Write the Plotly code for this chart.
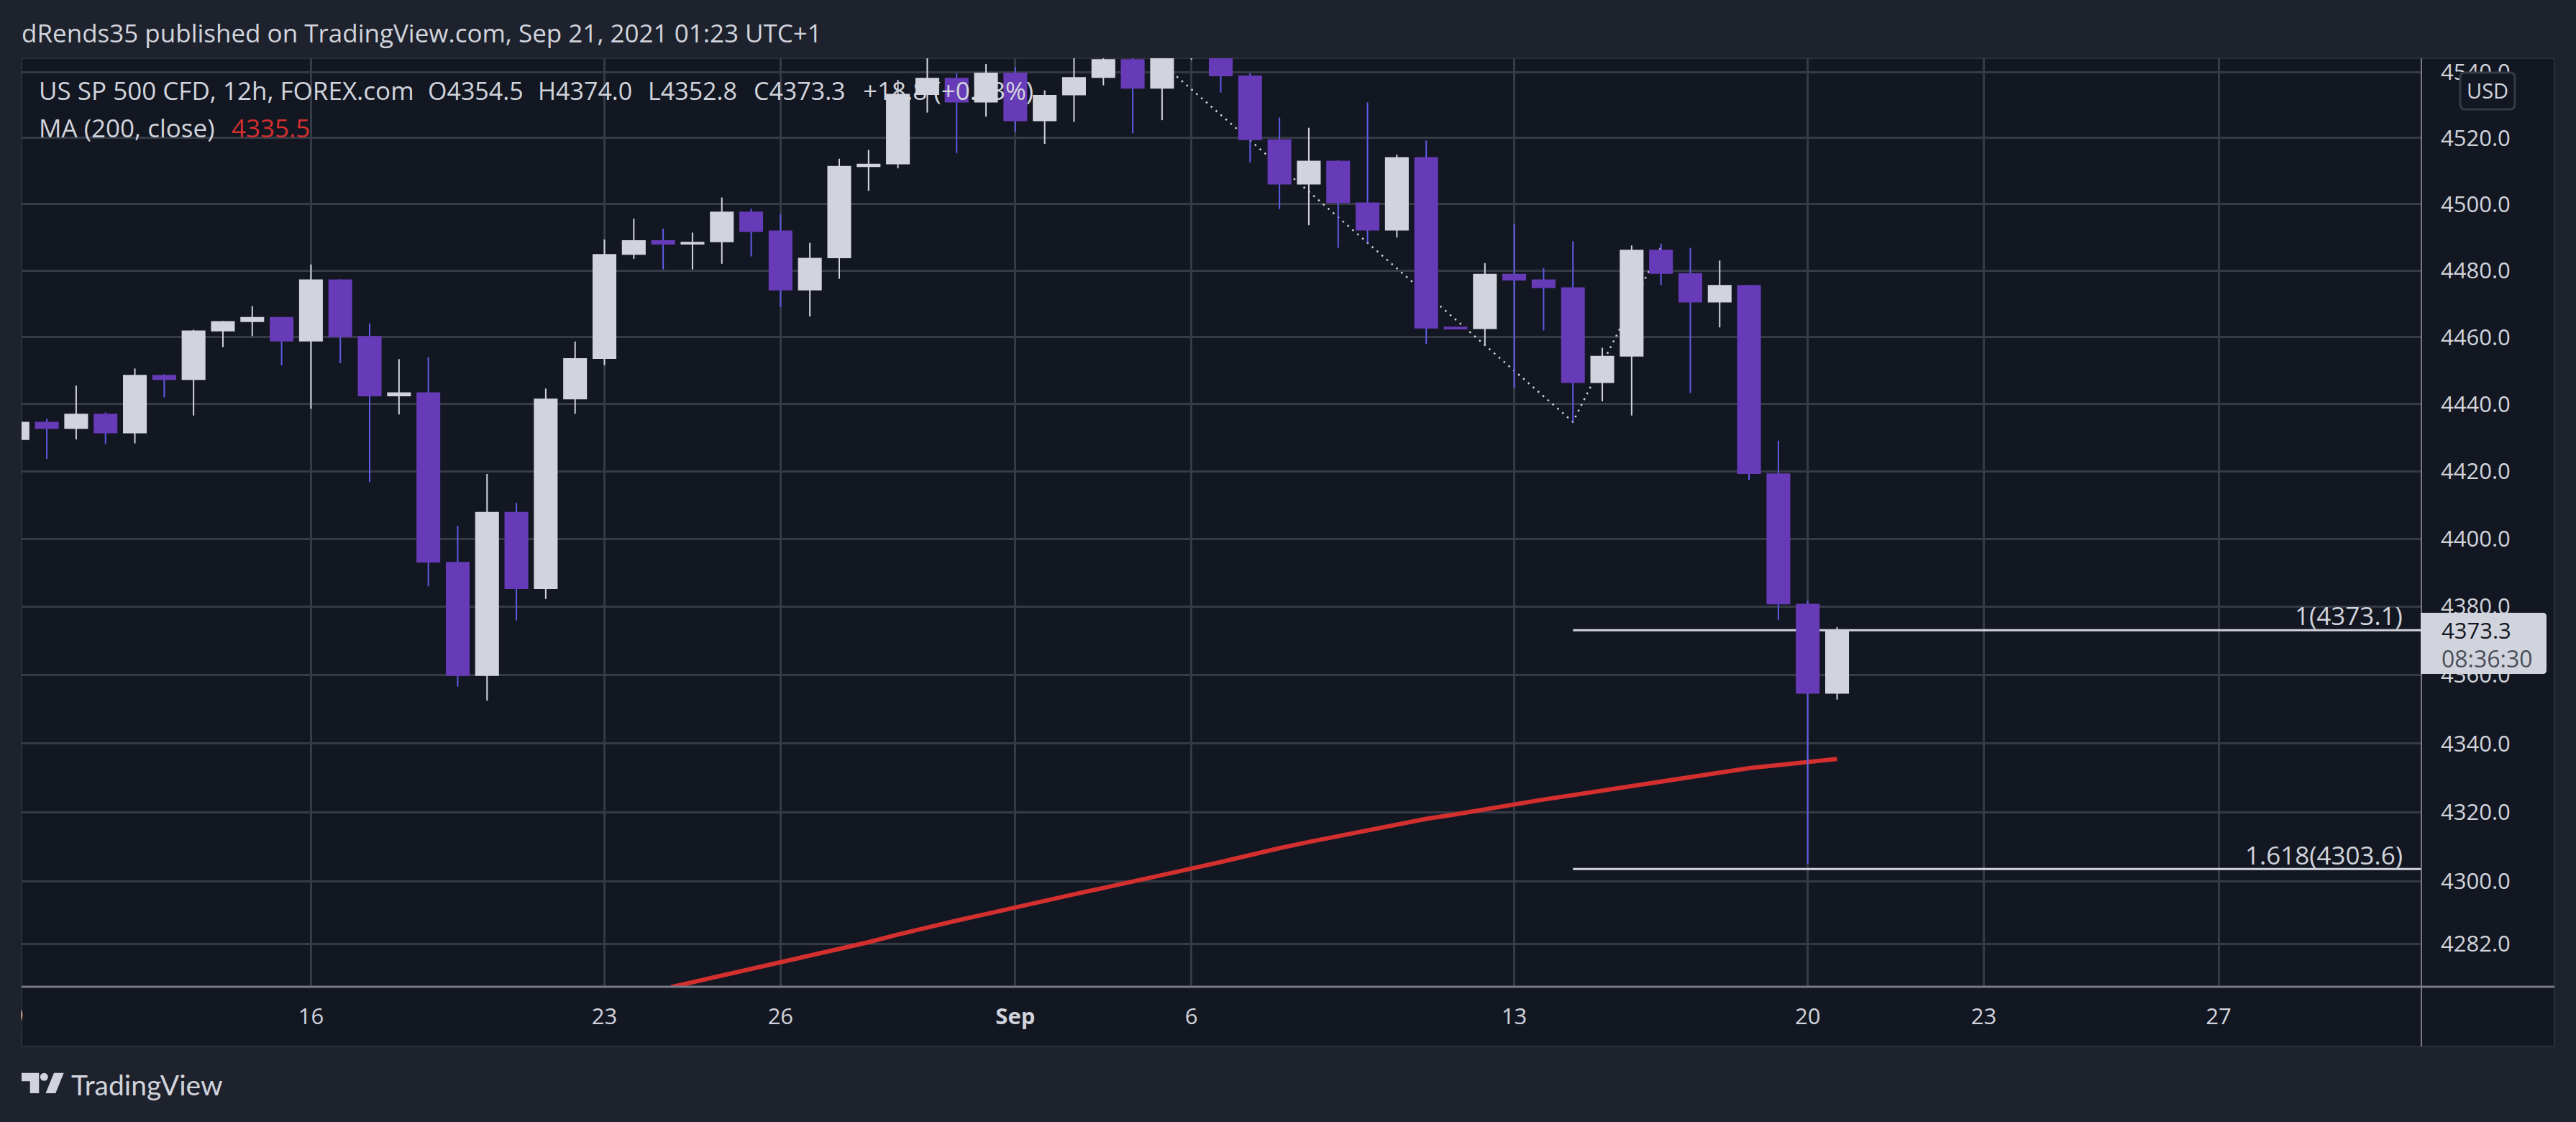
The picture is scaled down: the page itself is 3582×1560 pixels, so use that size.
import plotly.graph_objects as go

# ---------- data ----------
bar_index = list(range(63))
open_prices = [4429.3,4434.7,4432.6,4437.1,4431.3,4448.7,4447.2,4461.7,4464.5,4466,
 4458.7,4477.3,4460.3,4442.3,4443.5,4393.2,4359.7,4408,4385.2,4441.4,
 4453.5,4484.7,4489.1,4487.8,4488.5,4497.7,4492,4474,4483.7,4511.2,
 4512,4533.1,4538.3,4530.8,4539.9,4525.1,4533,4538.3,4544,4535,
 4547,4550,4539,4519.6,4505.9,4513.1,4500.5,4492,4514.2,4463.1,
 4462.4,4479,4477.3,4474.9,4446.3,4454.2,4486.2,4479.2,4470.4,4475.6,
 4419.4,4380.9,4354.5]
high_prices = [4435,4435.6,4445.5,4437.5,4450.6,4448.9,4462.2,4464.8,4469.3,4466,
 4481.8,4477.3,4464.1,4453.4,4454,4403.9,4419.2,4410.7,4444.6,4458.7,
 4489.3,4495.6,4492.6,4491.4,4502,4498.6,4497,4488.3,4513.7,4516.4,
 4537.7,4546,4539.7,4542.5,4541.6,4534.5,4546,4546,4546,4549,
 4553,4552,4539.7,4526.2,4523.1,4513.3,4530.8,4515,4519.2,4463.1,
 4482.2,4494,4480.7,4488.8,4456.8,4487.5,4488.1,4486.8,4483,4475.6,
 4429.1,4381.8,4374.0]
low_prices = [4429,4423.7,4429.5,4428.1,4428.3,4442.0,4436.6,4457,4460.3,4451.5,
 4438.6,4452.2,4416.8,4436.9,4386,4356.6,4352.5,4376,4382.3,4437.1,
 4451.6,4483.5,4480.3,4480.3,4482,4484.2,4469,4466.2,4477.5,4504,
 4510.8,4527.7,4515.4,4526.5,4521.9,4518.2,4524.9,4536,4521.4,4525.4,
 4543.8,4533.8,4512.6,4498.5,4493.6,4486.8,4488.3,4489.9,4458,4462.3,
 4457.4,4444.8,4462,4434.7,4440.8,4436.6,4475.6,4443.3,4462.9,4417.4,
 4376.1,4305.1,4352.8]
close_prices = [4434.7,4432.6,4437.1,4431.3,4448.7,4447.2,4462,4464.8,4466,4458.7,
 4477.3,4460,4442.3,4443.5,4393,4359.7,4408,4385.2,4441.6,4453.7,
 4484.9,4489.1,4487.8,4488.6,4497.7,4491.6,4474,4483.8,4511.5,4512.2,
 4533.4,4538.3,4530.8,4539.9,4525.1,4533.1,4538.5,4544,4535,4546,
 4552,4538.8,4519.4,4505.9,4513.1,4500.3,4492,4514.2,4462.6,4462.3,
 4479,4477,4474.7,4446.3,4454.4,4486.2,4479,4470.4,4475.6,4419.2,
 4380.7,4354.5,4373.3]

ma_index = [22.27] + list(range(23, 63))
ma_values = [4269.6,4271,4272.8,4274.9,4276.6,4278.6,4280.6,4282.5,4284.7,4286.8,
 4288.7,4290.6,4292.6,4294.6,4296.3,4298.1,4299.9,4301.6,4303.7,4305.6,
 4307.7,4309.6,4311.4,4313.1,4314.8,4316.7,4318.1,4319.4,4320.9,4322.2,
 4323.7,4325,4326.3,4327.8,4329.2,4330.5,4331.8,4332.8,4333.7,4334.6,4335.5]

zigzag_index = [39, 53, 56]
zigzag_values = [4542.6, 4434.7, 4487]

fib_values = [4373.1, 4303.6]
fib_labels = ["1(4373.1)", "1.618(4303.6)"]
fib_start = 53

x_tick_index = [10, 20, 26, 34, 40, 51, 61, 67, 75]
x_tick_labels = ["16", "23", "26", "<b>Sep</b>", "6", "13", "20", "23", "27"]
y_ticks = [4540, 4520, 4500, 4480, 4460, 4440, 4420, 4400, 4380, 4360, 4340, 4320, 4300, 4282]
y_tick_labels = ["%.1f" % v for v in y_ticks]

# ---------- style ----------
W, H = 3582, 1560
L, R, T, B = 30, 3367, 81, 1372
PAPER, PANEL = "#1e222d", "#131722"
GRID, AXIS, EDGE = "#363a45", "#787b86", "#2a2e39"
TXT, PURPLE, WICK_DN, RED = "#d1d4dc", "#673ab7", "#5c5ce6", "#d32f2f"
FONT = "Open Sans"
FS = 31
FS_TXT = 35


def px(v):
    return (v - L) / (R - L)


def py(v):
    return 1 - (v - T) / (B - T)


def poly(points):
    return "M" + " L".join(f"{px(a):.5f},{py(b):.5f}" for a, b in points) + " Z"


def wick_xy(select):
    xs, ys = [], []
    for i, o, h, l, c in zip(bar_index, open_prices, high_prices, low_prices, close_prices):
        if select(o, c):
            xs += [i, i, None]
            ys += [l, h, None]
    return xs, ys


fig = go.Figure()
common = dict(showlegend=False, hoverinfo="skip")

fig.add_trace(go.Scatter(x=ma_index, y=ma_values, mode="lines", zorder=0,
                         line=dict(color=RED, width=6), **common))
for v in fib_values:
    fig.add_trace(go.Scatter(x=[fib_start, 82], y=[v, v], mode="lines", zorder=0,
                             line=dict(color=TXT, width=3), **common))
fig.add_trace(go.Scatter(x=zigzag_index, y=zigzag_values, mode="lines", zorder=0,
                         line=dict(color=TXT, width=2.5, dash="2.5px,6.5px"), **common))
x_up, y_up = wick_xy(lambda o, c: c >= o)
x_dn, y_dn = wick_xy(lambda o, c: c < o)
fig.add_trace(go.Scatter(x=x_up, y=y_up, mode="lines", zorder=1,
                         line=dict(color=TXT, width=2), **common))
fig.add_trace(go.Scatter(x=x_dn, y=y_dn, mode="lines", zorder=1,
                         line=dict(color=WICK_DN, width=2), **common))
fig.add_trace(go.Candlestick(
    x=bar_index, open=open_prices, high=high_prices, low=low_prices, close=close_prices,
    zorder=2, whiskerwidth=0, showlegend=False,
    increasing=dict(fillcolor=TXT, line=dict(color=TXT, width=0)),
    decreasing=dict(fillcolor=PURPLE, line=dict(color=PURPLE, width=0)),
))

shapes = [
    dict(type="rect", xref="paper", yref="paper", layer="below", x0=px(30), x1=px(3552),
         y0=py(81), y1=py(1455), fillcolor=PANEL, line=dict(color=EDGE, width=2)),
    dict(type="line", xref="paper", yref="paper", layer="above", x0=px(L), x1=px(3552),
         y0=py(B), y1=py(B), line=dict(color=AXIS, width=3)),
    dict(type="line", xref="paper", yref="paper", layer="above", x0=px(R), x1=px(R),
         y0=py(T), y1=py(1455), line=dict(color=AXIS, width=2)),
    # last price tag
    dict(type="path", xref="paper", yref="paper", layer="above", fillcolor=TXT, line=dict(width=0),
         path=f"M{px(3366):.5f},{py(852):.5f} L{px(3536):.5f},{py(852):.5f} "
              f"Q{px(3541):.5f},{py(852):.5f} {px(3541):.5f},{py(857):.5f} "
              f"L{px(3541):.5f},{py(932):.5f} Q{px(3541):.5f},{py(937):.5f} {px(3536):.5f},{py(937):.5f} "
              f"L{px(3366):.5f},{py(937):.5f} Z"),
    # currency button
    dict(type="path", xref="paper", yref="paper", layer="above", fillcolor=PANEL,
         line=dict(color=GRID, width=3),
         path=f"M{px(3428):.5f},{py(101):.5f} L{px(3490):.5f},{py(101):.5f} "
              f"Q{px(3497):.5f},{py(101):.5f} {px(3497):.5f},{py(108):.5f} "
              f"L{px(3497):.5f},{py(145):.5f} Q{px(3497):.5f},{py(152):.5f} {px(3490):.5f},{py(152):.5f} "
              f"L{px(3428):.5f},{py(152):.5f} Q{px(3421):.5f},{py(152):.5f} {px(3421):.5f},{py(145):.5f} "
              f"L{px(3421):.5f},{py(108):.5f} Q{px(3421):.5f},{py(101):.5f} {px(3428):.5f},{py(101):.5f} Z"),
    # logo
    dict(type="path", xref="paper", yref="paper", layer="above", fillcolor=TXT, line=dict(width=0),
         path=poly([(30, 1491.7), (54.3, 1491.7), (54.3, 1520), (41.7, 1520), (41.7, 1503.3), (30, 1503.3)])),
    dict(type="circle", xref="paper", yref="paper", layer="above", fillcolor=TXT, line=dict(width=0),
         x0=px(55.8), x1=px(66.8), y0=py(1491.8), y1=py(1502.8)),
    dict(type="path", xref="paper", yref="paper", layer="above", fillcolor=TXT, line=dict(width=0),
         path=poly([(75, 1491.7), (88.7, 1491.7), (77.3, 1520), (63.5, 1520)])),
]


def note(text, x, y, color=TXT, size=FS, anchor="left", family=FONT):
    return dict(text=text, xref="paper", yref="paper", x=px(x), y=py(y), xanchor=anchor,
                yanchor="middle", showarrow=False, font=dict(family=family, size=size, color=color),
                borderpad=0, borderwidth=0)


fib_y = [876, 1209]
annotations = [
    note("dRends35 published on TradingView.com, Sep 21, 2021 01:23 UTC+1", 30, 45, size=FS_TXT),
    note("US SP 500 CFD, 12h, FOREX.com", 54, 126, size=FS_TXT),
    note("O4354.5", 595, 126, size=34),
    note("H4374.0", 748, 126, size=34),
    note("L4352.8", 901, 126, size=34),
    note("C4373.3", 1048, 126, size=34),
    note("+18.8 (+0.43%)", 1200, 126, size=FS_TXT),
    note("MA (200, close)", 54, 178, size=FS_TXT),
    note("4335.5", 322, 178, color=RED, size=FS_TXT),
    note(fib_labels[0], 3341, fib_y[0] - 21, anchor="right", size=FS_TXT),
    note(fib_labels[1], 3341, fib_y[1] - 21, anchor="right", size=FS_TXT),
    note("4373.3", 3395, 876, color="#131722"),
    note("08:36:30", 3395, 915, color="#4a4e59", size=32),
    note("USD", 3459, 126, anchor="center", size=29),
    note("TradingView", 99, 1508, size=39, family="Lato"),
    note("9", 24, 1411, anchor="center"),
    dict(text=" ", xref="paper", yref="paper", x=px(30), y=py(1411), xanchor="right", yanchor="middle",
         showarrow=False, width=24, height=44, bgcolor=PAPER, font=dict(size=10)),
]

fig.update_layout(
    width=W, height=H, autosize=False,
    margin=dict(l=L, r=W - R, t=T, b=H - B, pad=0),
    paper_bgcolor=PAPER, plot_bgcolor=PANEL,
    font=dict(family=FONT, size=FS, color=TXT),
    showlegend=False, hovermode=False, boxgap=0.19, boxgroupgap=0,
    shapes=shapes, annotations=annotations,
    xaxis=dict(range=[(L - 24.3) / 40.81, (R - 24.3) / 40.81], tickmode="array",
               tickvals=x_tick_index, ticktext=x_tick_labels, showgrid=True, gridcolor=GRID,
               gridwidth=3, zeroline=False, showline=False, ticks="", rangeslider=dict(visible=False),
               ticklabelstandoff=20, tickfont=dict(family=FONT, size=FS, color=TXT)),
    yaxis=dict(type="log", side="right", range=[3.630397, 3.657463], tickmode="array",
               tickvals=y_ticks, ticktext=y_tick_labels, showgrid=True, gridcolor=GRID,
               gridwidth=3, zeroline=False, showline=False, ticks="",
               ticklabelstandoff=26, tickfont=dict(family=FONT, size=FS, color=TXT)),
)

fig.write_html("out.html", config=dict(displayModeBar=False),
               post_script="document.body.style.margin='0';")
